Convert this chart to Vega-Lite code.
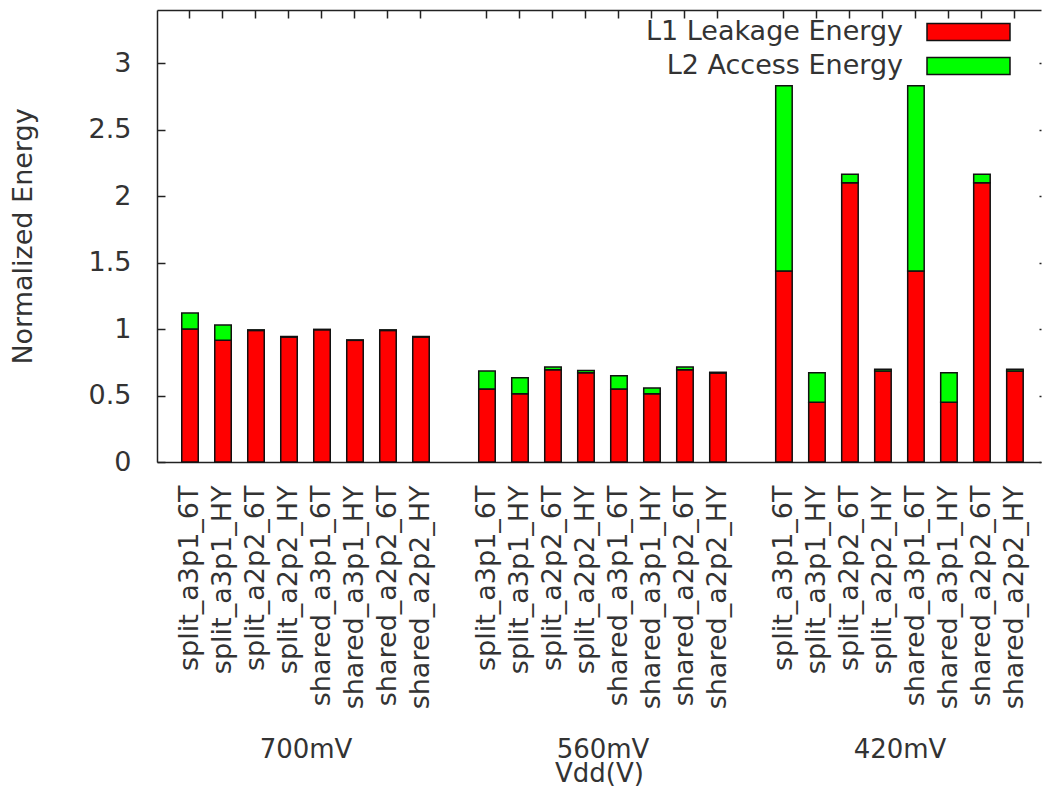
{
  "$schema": "https://vega.github.io/schema/vega-lite/v6.json",
  "width": 884,
  "height": 452,
  "autosize": {"type": "none"},
  "padding": {"left": 157, "top": 10, "right": 1, "bottom": 327},
  "background": "white",
  "config": {
    "view": {"stroke": null},
    "font": "DejaVu Sans",
    "axis": {
      "labelFont": "DejaVu Sans",
      "titleFont": "DejaVu Sans",
      "labelFontSize": 27,
      "titleFontSize": 27,
      "titleFontWeight": "normal",
      "labelColor": "#333",
      "titleColor": "#333",
      "domainColor": "#222",
      "tickColor": "#222",
      "domainWidth": 1.5,
      "tickWidth": 1.5,
      "grid": false
    }
  },
  "datasets": {
    "energy": [
      {"vdd": "700mV", "cfg": "split_a3p1_6T", "key": "700mV|split_a3p1_6T", "comp": "L1 Leakage Energy", "val": 1.0},
      {"vdd": "700mV", "cfg": "split_a3p1_6T", "key": "700mV|split_a3p1_6T", "comp": "L2 Access Energy", "val": 0.12},
      {"vdd": "700mV", "cfg": "split_a3p1_HY", "key": "700mV|split_a3p1_HY", "comp": "L1 Leakage Energy", "val": 0.915},
      {"vdd": "700mV", "cfg": "split_a3p1_HY", "key": "700mV|split_a3p1_HY", "comp": "L2 Access Energy", "val": 0.115},
      {"vdd": "700mV", "cfg": "split_a2p2_6T", "key": "700mV|split_a2p2_6T", "comp": "L1 Leakage Energy", "val": 0.99},
      {"vdd": "700mV", "cfg": "split_a2p2_6T", "key": "700mV|split_a2p2_6T", "comp": "L2 Access Energy", "val": 0.004},
      {"vdd": "700mV", "cfg": "split_a2p2_HY", "key": "700mV|split_a2p2_HY", "comp": "L1 Leakage Energy", "val": 0.94},
      {"vdd": "700mV", "cfg": "split_a2p2_HY", "key": "700mV|split_a2p2_HY", "comp": "L2 Access Energy", "val": 0.004},
      {"vdd": "700mV", "cfg": "shared_a3p1_6T", "key": "700mV|shared_a3p1_6T", "comp": "L1 Leakage Energy", "val": 0.995},
      {"vdd": "700mV", "cfg": "shared_a3p1_6T", "key": "700mV|shared_a3p1_6T", "comp": "L2 Access Energy", "val": 0.003},
      {"vdd": "700mV", "cfg": "shared_a3p1_HY", "key": "700mV|shared_a3p1_HY", "comp": "L1 Leakage Energy", "val": 0.915},
      {"vdd": "700mV", "cfg": "shared_a3p1_HY", "key": "700mV|shared_a3p1_HY", "comp": "L2 Access Energy", "val": 0.003},
      {"vdd": "700mV", "cfg": "shared_a2p2_6T", "key": "700mV|shared_a2p2_6T", "comp": "L1 Leakage Energy", "val": 0.99},
      {"vdd": "700mV", "cfg": "shared_a2p2_6T", "key": "700mV|shared_a2p2_6T", "comp": "L2 Access Energy", "val": 0.004},
      {"vdd": "700mV", "cfg": "shared_a2p2_HY", "key": "700mV|shared_a2p2_HY", "comp": "L1 Leakage Energy", "val": 0.94},
      {"vdd": "700mV", "cfg": "shared_a2p2_HY", "key": "700mV|shared_a2p2_HY", "comp": "L2 Access Energy", "val": 0.004},

      {"vdd": "560mV", "cfg": "split_a3p1_6T", "key": "560mV|split_a3p1_6T", "comp": "L1 Leakage Energy", "val": 0.55},
      {"vdd": "560mV", "cfg": "split_a3p1_6T", "key": "560mV|split_a3p1_6T", "comp": "L2 Access Energy", "val": 0.134},
      {"vdd": "560mV", "cfg": "split_a3p1_HY", "key": "560mV|split_a3p1_HY", "comp": "L1 Leakage Energy", "val": 0.513},
      {"vdd": "560mV", "cfg": "split_a3p1_HY", "key": "560mV|split_a3p1_HY", "comp": "L2 Access Energy", "val": 0.121},
      {"vdd": "560mV", "cfg": "split_a2p2_6T", "key": "560mV|split_a2p2_6T", "comp": "L1 Leakage Energy", "val": 0.694},
      {"vdd": "560mV", "cfg": "split_a2p2_6T", "key": "560mV|split_a2p2_6T", "comp": "L2 Access Energy", "val": 0.02},
      {"vdd": "560mV", "cfg": "split_a2p2_HY", "key": "560mV|split_a2p2_HY", "comp": "L1 Leakage Energy", "val": 0.672},
      {"vdd": "560mV", "cfg": "split_a2p2_HY", "key": "560mV|split_a2p2_HY", "comp": "L2 Access Energy", "val": 0.017},
      {"vdd": "560mV", "cfg": "shared_a3p1_6T", "key": "560mV|shared_a3p1_6T", "comp": "L1 Leakage Energy", "val": 0.55},
      {"vdd": "560mV", "cfg": "shared_a3p1_6T", "key": "560mV|shared_a3p1_6T", "comp": "L2 Access Energy", "val": 0.099},
      {"vdd": "560mV", "cfg": "shared_a3p1_HY", "key": "560mV|shared_a3p1_HY", "comp": "L1 Leakage Energy", "val": 0.513},
      {"vdd": "560mV", "cfg": "shared_a3p1_HY", "key": "560mV|shared_a3p1_HY", "comp": "L2 Access Energy", "val": 0.043},
      {"vdd": "560mV", "cfg": "shared_a2p2_6T", "key": "560mV|shared_a2p2_6T", "comp": "L1 Leakage Energy", "val": 0.694},
      {"vdd": "560mV", "cfg": "shared_a2p2_6T", "key": "560mV|shared_a2p2_6T", "comp": "L2 Access Energy", "val": 0.02},
      {"vdd": "560mV", "cfg": "shared_a2p2_HY", "key": "560mV|shared_a2p2_HY", "comp": "L1 Leakage Energy", "val": 0.67},
      {"vdd": "560mV", "cfg": "shared_a2p2_HY", "key": "560mV|shared_a2p2_HY", "comp": "L2 Access Energy", "val": 0.005},

      {"vdd": "420mV", "cfg": "split_a3p1_6T", "key": "420mV|split_a3p1_6T", "comp": "L1 Leakage Energy", "val": 1.437},
      {"vdd": "420mV", "cfg": "split_a3p1_6T", "key": "420mV|split_a3p1_6T", "comp": "L2 Access Energy", "val": 1.393},
      {"vdd": "420mV", "cfg": "split_a3p1_HY", "key": "420mV|split_a3p1_HY", "comp": "L1 Leakage Energy", "val": 0.45},
      {"vdd": "420mV", "cfg": "split_a3p1_HY", "key": "420mV|split_a3p1_HY", "comp": "L2 Access Energy", "val": 0.222},
      {"vdd": "420mV", "cfg": "split_a2p2_6T", "key": "420mV|split_a2p2_6T", "comp": "L1 Leakage Energy", "val": 2.1},
      {"vdd": "420mV", "cfg": "split_a2p2_6T", "key": "420mV|split_a2p2_6T", "comp": "L2 Access Energy", "val": 0.065},
      {"vdd": "420mV", "cfg": "split_a2p2_HY", "key": "420mV|split_a2p2_HY", "comp": "L1 Leakage Energy", "val": 0.684},
      {"vdd": "420mV", "cfg": "split_a2p2_HY", "key": "420mV|split_a2p2_HY", "comp": "L2 Access Energy", "val": 0.013},
      {"vdd": "420mV", "cfg": "shared_a3p1_6T", "key": "420mV|shared_a3p1_6T", "comp": "L1 Leakage Energy", "val": 1.437},
      {"vdd": "420mV", "cfg": "shared_a3p1_6T", "key": "420mV|shared_a3p1_6T", "comp": "L2 Access Energy", "val": 1.393},
      {"vdd": "420mV", "cfg": "shared_a3p1_HY", "key": "420mV|shared_a3p1_HY", "comp": "L1 Leakage Energy", "val": 0.45},
      {"vdd": "420mV", "cfg": "shared_a3p1_HY", "key": "420mV|shared_a3p1_HY", "comp": "L2 Access Energy", "val": 0.222},
      {"vdd": "420mV", "cfg": "shared_a2p2_6T", "key": "420mV|shared_a2p2_6T", "comp": "L1 Leakage Energy", "val": 2.1},
      {"vdd": "420mV", "cfg": "shared_a2p2_6T", "key": "420mV|shared_a2p2_6T", "comp": "L2 Access Energy", "val": 0.065},
      {"vdd": "420mV", "cfg": "shared_a2p2_HY", "key": "420mV|shared_a2p2_HY", "comp": "L1 Leakage Energy", "val": 0.684},
      {"vdd": "420mV", "cfg": "shared_a2p2_HY", "key": "420mV|shared_a2p2_HY", "comp": "L2 Access Energy", "val": 0.013}
    ],
    "groups": [
      {"vdd": "700mV"},
      {"vdd": "560mV"},
      {"vdd": "420mV"}
    ]
  },
  "layer": [
    {
      "data": {"name": "energy"},
      "mark": {"type": "bar", "stroke": "#111", "strokeWidth": 1.5, "width": {"band": 0.5}},
      "encoding": {
        "x": {
          "field": "key",
          "type": "nominal",
          "scale": {
            "domain": ["700mV|split_a3p1_6T","700mV|split_a3p1_HY","700mV|split_a2p2_6T","700mV|split_a2p2_HY","700mV|shared_a3p1_6T","700mV|shared_a3p1_HY","700mV|shared_a2p2_6T","700mV|shared_a2p2_HY","gap1",
                       "560mV|split_a3p1_6T","560mV|split_a3p1_HY","560mV|split_a2p2_6T","560mV|split_a2p2_HY","560mV|shared_a3p1_6T","560mV|shared_a3p1_HY","560mV|shared_a2p2_6T","560mV|shared_a2p2_HY","gap2",
                       "420mV|split_a3p1_6T","420mV|split_a3p1_HY","420mV|split_a2p2_6T","420mV|split_a2p2_HY","420mV|shared_a3p1_6T","420mV|shared_a3p1_HY","420mV|shared_a2p2_6T","420mV|shared_a2p2_HY"],
            "paddingInner": 0,
            "paddingOuter": 0.395,
            "align": 0.633
          },
          "axis": {
            "orient": "bottom",
            "title": null,
            "ticks": false,
            "labelAngle": -90,
            "labelPadding": 23,
            "labelLimit": 0,
            "labelExpr": "split(datum.value, '|')[1]",
            "values": ["700mV|split_a3p1_6T","700mV|split_a3p1_HY","700mV|split_a2p2_6T","700mV|split_a2p2_HY","700mV|shared_a3p1_6T","700mV|shared_a3p1_HY","700mV|shared_a2p2_6T","700mV|shared_a2p2_HY",
                       "560mV|split_a3p1_6T","560mV|split_a3p1_HY","560mV|split_a2p2_6T","560mV|split_a2p2_HY","560mV|shared_a3p1_6T","560mV|shared_a3p1_HY","560mV|shared_a2p2_6T","560mV|shared_a2p2_HY",
                       "420mV|split_a3p1_6T","420mV|split_a3p1_HY","420mV|split_a2p2_6T","420mV|split_a2p2_HY","420mV|shared_a3p1_6T","420mV|shared_a3p1_HY","420mV|shared_a2p2_6T","420mV|shared_a2p2_HY"]
          }
        },
        "y": {
          "field": "val",
          "type": "quantitative",
          "stack": "zero",
          "scale": {"domain": [0, 3.4], "nice": false, "zero": true},
          "axis": {
            "orient": "left",
            "title": "Normalized Energy",
            "values": [0, 0.5, 1, 1.5, 2, 2.5, 3],
            "format": "~g",
            "tickSize": -8,
            "labelPadding": 34,
            "titleX": -126,
            "titleBaseline": "alphabetic"
          }
        },
        "color": {
          "field": "comp",
          "type": "nominal",
          "scale": {"domain": ["L1 Leakage Energy", "L2 Access Energy"], "range": ["#ff0000", "#00ff00"]},
          "legend": {
            "orient": "none",
            "legendX": 797,
            "legendY": 7.5,
            "title": null,
            "padding": 0,
            "labelAlign": "right",
            "labelOffset": -80,
            "symbolOffset": 0,
            "symbolType": "M-3.074,-0.63L3.074,-0.63L3.074,0.63L-3.074,0.63Z",
            "symbolSize": 729,
            "symbolStrokeColor": "#111",
            "symbolStrokeWidth": 1.5,
            "symbolOpacity": 1,
            "labelFont": "DejaVu Sans",
            "labelFontSize": 27,
            "labelColor": "#333",
            "labelLimit": 0,
            "rowPadding": 6
          }
        },
        "order": {"field": "comp", "sort": "ascending"}
      }
    },
    {
      "data": {"name": "energy"},
      "mark": {"type": "point", "opacity": 0},
      "encoding": {
        "x": {
          "field": "key",
          "type": "nominal",
          "scale": {
            "domain": ["700mV|split_a3p1_6T","700mV|split_a3p1_HY","700mV|split_a2p2_6T","700mV|split_a2p2_HY","700mV|shared_a3p1_6T","700mV|shared_a3p1_HY","700mV|shared_a2p2_6T","700mV|shared_a2p2_HY","gap1",
                       "560mV|split_a3p1_6T","560mV|split_a3p1_HY","560mV|split_a2p2_6T","560mV|split_a2p2_HY","560mV|shared_a3p1_6T","560mV|shared_a3p1_HY","560mV|shared_a2p2_6T","560mV|shared_a2p2_HY","gap2",
                       "420mV|split_a3p1_6T","420mV|split_a3p1_HY","420mV|split_a2p2_6T","420mV|split_a2p2_HY","420mV|shared_a3p1_6T","420mV|shared_a3p1_HY","420mV|shared_a2p2_6T","420mV|shared_a2p2_HY"],
            "type": "band",
            "paddingInner": 0,
            "paddingOuter": 0.395,
            "align": 0.633
          },
          "axis": {
            "orient": "top",
            "title": null,
            "labels": false,
            "tickSize": -8,
            "values": ["700mV|split_a3p1_6T","700mV|split_a3p1_HY","700mV|split_a2p2_6T","700mV|split_a2p2_HY","700mV|shared_a3p1_6T","700mV|shared_a3p1_HY","700mV|shared_a2p2_6T","700mV|shared_a2p2_HY",
                       "560mV|split_a3p1_6T","560mV|split_a3p1_HY","560mV|split_a2p2_6T","560mV|split_a2p2_HY","560mV|shared_a3p1_6T","560mV|shared_a3p1_HY","560mV|shared_a2p2_6T","560mV|shared_a2p2_HY",
                       "420mV|split_a3p1_6T","420mV|split_a3p1_HY","420mV|split_a2p2_6T","420mV|split_a2p2_HY","420mV|shared_a3p1_6T","420mV|shared_a3p1_HY","420mV|shared_a2p2_6T","420mV|shared_a2p2_HY"]
          }
        },
        "y": {
          "field": "val",
          "type": "quantitative",
          "axis": {
            "orient": "right",
            "title": null,
            "labels": false,
            "domain": false,
            "values": [0, 0.5, 1, 1.5, 2, 2.5, 3],
            "tickSize": -2
          }
        }
      }
    },
    {
      "data": {"name": "groups"},
      "mark": {"type": "point", "opacity": 0},
      "encoding": {
        "x": {
          "field": "vdd",
          "type": "nominal",
          "sort": null,
          "scale": {"type": "point", "domain": ["700mV", "560mV", "420mV"], "padding": 0.4882, "align": 0.5121},
          "axis": {
            "orient": "bottom",
            "offset": 274,
            "ticks": false,
            "domain": false,
            "labelAngle": 0,
            "labelPadding": 0,
            "labelFontSize": 26,
            "title": "Vdd(V)",
            "titleFontSize": 26,
            "titlePadding": -2
          }
        }
      }
    }
  ],
  "resolve": {
    "scale": {"x": "independent", "y": "shared"},
    "axis": {"x": "independent", "y": "independent"}
  }
}
